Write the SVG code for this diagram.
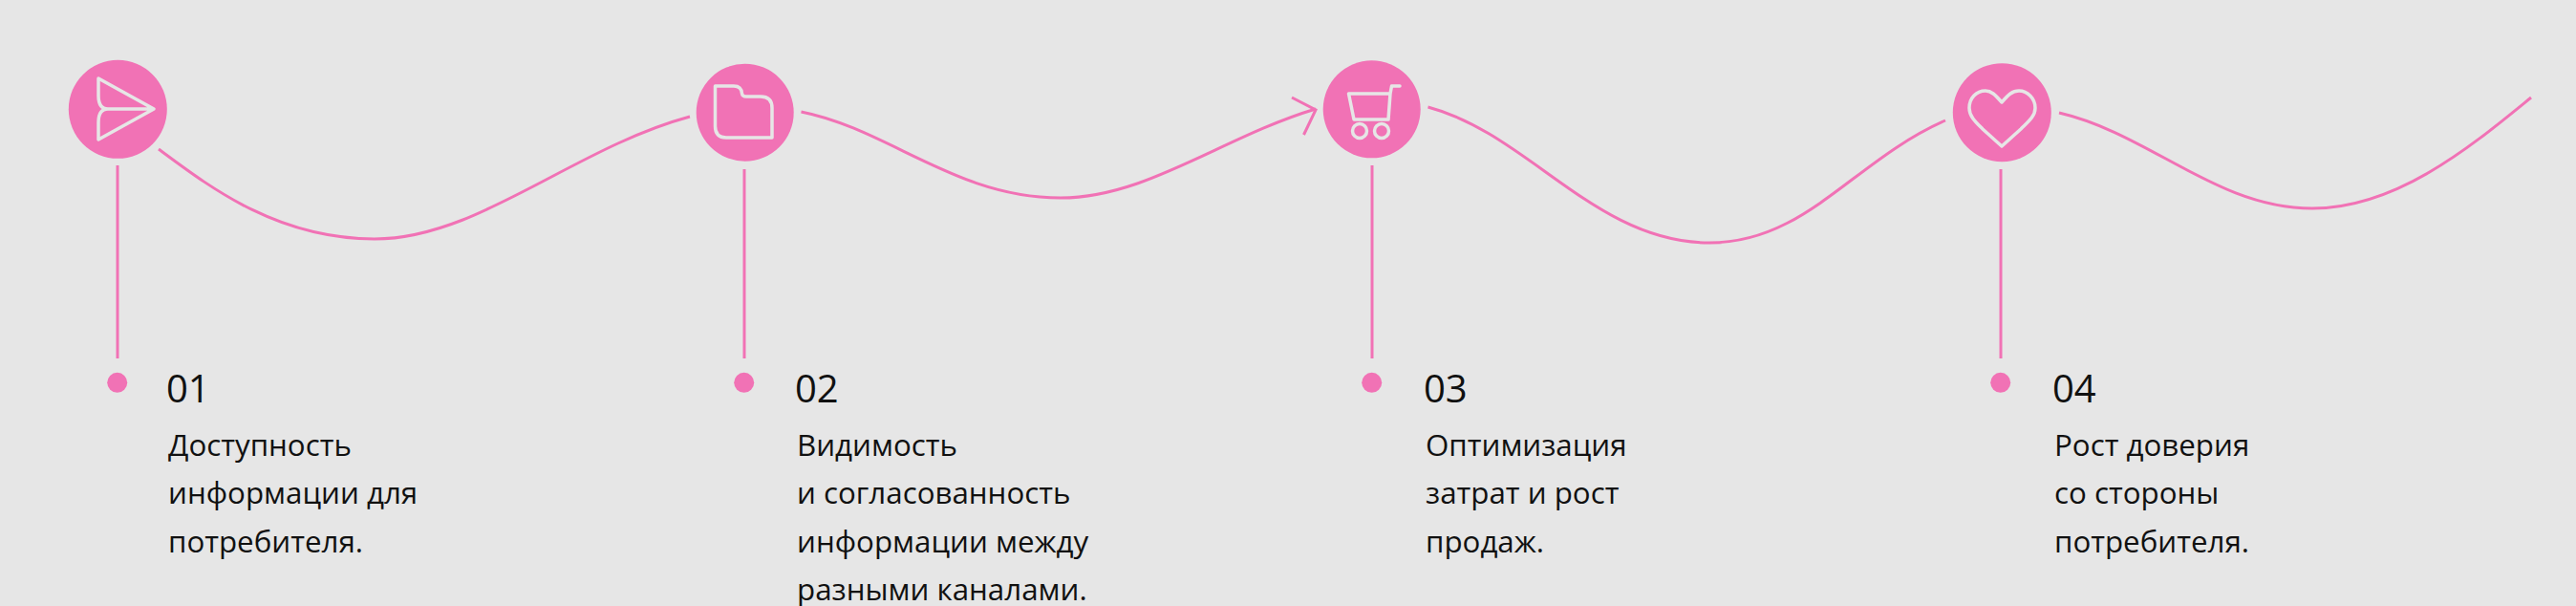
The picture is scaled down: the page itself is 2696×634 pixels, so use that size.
<svg xmlns="http://www.w3.org/2000/svg" width="2696" height="634" viewBox="0 0 2696 634">
<style>
.c{fill:#f172b5}
.l{fill:none;stroke:#f172b5;stroke-width:3}
.i{fill:none;stroke:#e6e6e6;stroke-width:3.500;stroke-linejoin:round;stroke-linecap:round}
.n{font:40px "Open Sans","Noto Sans",sans-serif;fill:#111}
.t{font:31.300px "Open Sans","Noto Sans",sans-serif;fill:#111}
</style>
<rect width="2696" height="634" fill="#e6e6e6"/>
<g id="connectors">
<path class="l" d="M166 156C220 196 290 250 392 250C500 250 600 155 722 122"/>
<path class="l" d="M838.500 117C930 135 1000 207 1110 207C1200 207 1280 143 1377 114"/>
<path class="l" d="M1352 102L1377 115L1364.500 141"/>
<path class="l" d="M1494.500 112C1600 140 1670 254 1789 254C1890 254 1940 168 2036 126"/>
<path class="l" d="M2155 118C2250 140 2320 218 2420 218C2510 218 2590 150 2649 102"/>
<path class="l" d="M123 173V375M779 177V375M1436 173V375M2094 177V375"/>
</g>
<g id="node1">
<circle class="c" cx="123.300" cy="114.300" r="51.500"/>
<path class="i" d="M103 82L161 114L103 146V128Q103 114 113 114Q103 114 103 100ZM113 114H161"/>
<circle class="c" cx="122.700" cy="400.300" r="10.500"/>
<text class="n" x="174" y="421">01</text>
<text class="t"><tspan x="176" y="477">Доступность</tspan><tspan x="176" y="527">информации для</tspan><tspan x="176" y="578">потребителя.</tspan></text>
</g>
<g id="node2">
<circle class="c" cx="779.700" cy="117.700" r="51"/>
<path class="i" d="M748.500 90H768Q776 90 776.500 98Q777 101 781 101H796Q808 101 808 113V144H760Q748.500 144 748.500 132Z"/>
<circle class="c" cx="778.700" cy="400.300" r="10.500"/>
<text class="n" x="832" y="421">02</text>
<text class="t"><tspan x="834" y="477">Видимость</tspan><tspan x="834" y="527">и согласованность</tspan><tspan x="834" y="578">информации между</tspan><tspan x="834" y="628">разными каналами.</tspan></text>
</g>
<g id="node3">
<circle class="c" cx="1435.700" cy="114.300" r="51"/>
<path class="i" d="M1411.500 98H1455L1453 125H1417ZM1455 98L1456.500 90H1465"/>
<circle class="i" cx="1423" cy="137" r="7.500"/>
<circle class="i" cx="1446" cy="137" r="7.500"/>
<circle class="c" cx="1435.700" cy="400.300" r="10.500"/>
<text class="n" x="1490" y="421">03</text>
<text class="t"><tspan x="1492" y="477">Оптимизация</tspan><tspan x="1492" y="527">затрат и рост</tspan><tspan x="1492" y="578">продаж.</tspan></text>
</g>
<g id="node4">
<circle class="c" cx="2095.300" cy="117.700" r="51.500"/>
<path class="i" d="M2095 107C2088 99 2084 95 2078 95C2068 95 2061 103 2061 113C2061 122 2068 128 2075 135L2095 153L2115 135C2122 128 2130 122 2130 113C2130 103 2122 95 2113 95C2106 95 2102 99 2095 107Z"/>
<circle class="c" cx="2093.700" cy="400.300" r="10.500"/>
<text class="n" x="2148" y="421">04</text>
<text class="t"><tspan x="2150" y="477">Рост доверия</tspan><tspan x="2150" y="527">со стороны</tspan><tspan x="2150" y="578">потребителя.</tspan></text>
</g>
</svg>
